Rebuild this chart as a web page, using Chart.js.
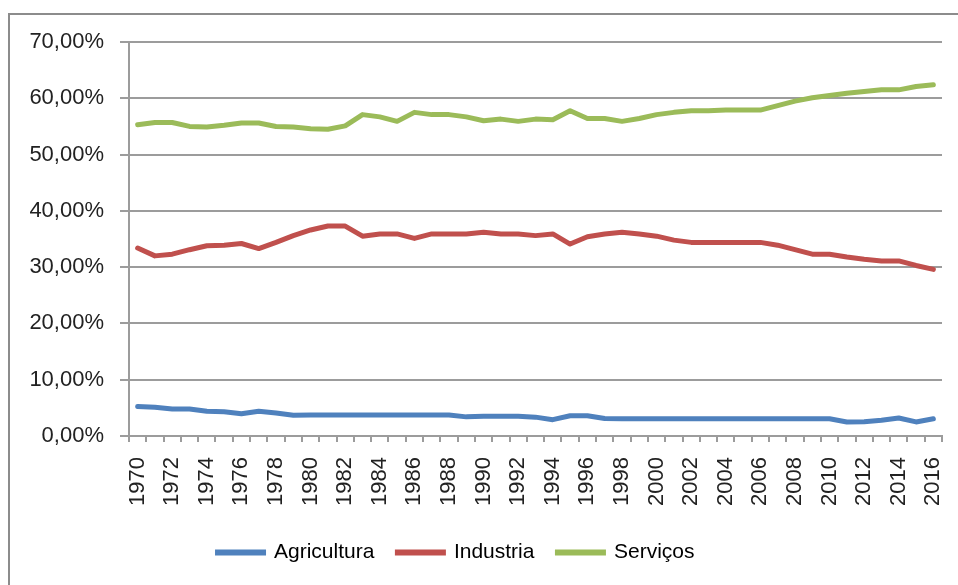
<!DOCTYPE html>
<html>
<head>
<meta charset="utf-8">
<script src="https://cdn.jsdelivr.net/npm/chart.js@4.4.1/dist/chart.umd.min.js"></script>
<style>
    html, body { margin: 0; padding: 0; background: #fff; overflow: hidden; }
    #wrap { position: relative; width: 958px; height: 585px; }
    #frame { position: absolute; left: 8px; top: 13px; width: 980px; height: 600px; border: 2px solid #8c8c8c; box-sizing: border-box; }
    canvas { position: absolute; left: 0; top: 0; }
</style>
</head>
<body>
<div id="wrap">
    <div id="frame"></div>
    <canvas id="chartSectors" width="958" height="585"></canvas>
</div>
<script>
// years 1970..2016
const years = ['1970','1971','1972','1973','1974','1975','1976','1977','1978','1979',
    '1980','1981','1982','1983','1984','1985','1986','1987','1988','1989',
    '1990','1991','1992','1993','1994','1995','1996','1997','1998','1999',
    '2000','2001','2002','2003','2004','2005','2006','2007','2008','2009',
    '2010','2011','2012','2013','2014','2015','2016'];

// shares in %
const agricultura = [5.25, 5.1, 4.8, 4.8, 4.4, 4.3, 3.95, 4.4, 4.1, 3.7,
    3.75, 3.75, 3.75, 3.75, 3.75, 3.75, 3.75, 3.75, 3.75, 3.4,
    3.5, 3.5, 3.5, 3.35, 2.9, 3.6, 3.6, 3.1, 3.05, 3.05,
    3.05, 3.05, 3.05, 3.05, 3.05, 3.05, 3.05, 3.05, 3.05, 3.05,
    3.05, 2.5, 2.55, 2.8, 3.2, 2.5, 3.05];

const industria = [33.4, 32.0, 32.3, 33.1, 33.8, 33.9, 34.2, 33.3, 34.4, 35.6,
    36.6, 37.3, 37.3, 35.5, 35.9, 35.9, 35.1, 35.9, 35.9, 35.9,
    36.2, 35.9, 35.9, 35.6, 35.9, 34.1, 35.4, 35.9, 36.2, 35.9,
    35.5, 34.8, 34.4, 34.4, 34.4, 34.4, 34.4, 33.9, 33.1, 32.3,
    32.3, 31.8, 31.4, 31.1, 31.1, 30.3, 29.6];

const servicos = [55.3, 55.7, 55.7, 55.0, 54.9, 55.2, 55.6, 55.6, 55.0, 54.9,
    54.6, 54.5, 55.1, 57.1, 56.7, 55.9, 57.5, 57.1, 57.1, 56.7,
    56.0, 56.3, 55.9, 56.3, 56.2, 57.8, 56.4, 56.4, 55.9, 56.4,
    57.1, 57.5, 57.8, 57.8, 57.9, 57.9, 57.9, 58.7, 59.5, 60.1,
    60.5, 60.9, 61.2, 61.5, 61.5, 62.1, 62.4];

const seriesNames = ['Agricultura', 'Industria', 'Serviços'];
const seriesColors = ['#4f81bd', '#c0504d', '#9bbb59'];

const FONT = 'Liberation Sans';
const gridGray = '#9c9c9c';

function lineSet(label, data, color) {
    return {
        label: label,
        data: data,
        borderColor: color,
        backgroundColor: color,
        borderWidth: 5,
        pointRadius: 0,
        tension: 0,
        borderCapStyle: 'round',
        borderJoinStyle: 'round'
    };
}

// legend sits a bit left of centre and higher in the original
const legendShift = {
    id: 'legendShift',
    afterLayout(chart) {
        if (chart.legend) {
            chart.legend.left -= 15;
            chart.legend.right -= 15;
            chart.legend.top -= 12;
            chart.legend.bottom -= 12;
        }
    }
};

const ctx = document.getElementById('chartSectors').getContext('2d');
new Chart(ctx, {
    type: 'line',
    data: {
        labels: years,
        datasets: [
            lineSet(seriesNames[0], agricultura, seriesColors[0]),
            lineSet(seriesNames[1], industria, seriesColors[1]),
            lineSet(seriesNames[2], servicos, seriesColors[2])
        ]
    },
    plugins: [legendShift],
    options: {
        responsive: false,
        animation: false,
        layout: { padding: { left: 0, right: 16, top: 42, bottom: 0 } },
        plugins: {
            tooltip: { enabled: false },
            legend: {
                position: 'bottom',
                labels: {
                    boxWidth: 46,
                    boxHeight: 1,
                    padding: 23,
                    color: '#222',
                    font: { family: FONT, size: 21 },
                    generateLabels: function(chart) {
                        return chart.data.datasets.map(function(ds, i) {
                            return { text: ds.label, fillStyle: ds.borderColor, strokeStyle: ds.borderColor,
                                     lineWidth: 5, lineCap: 'round', datasetIndex: i, hidden: false };
                        });
                    }
                }
            }
        },
        scales: {
            x: {
                offset: true,
                afterFit: function(scale) { scale.height = 95; scale.paddingLeft = 0; scale.paddingRight = 0; },
                grid: { display: true, offset: true, drawOnChartArea: false, drawTicks: true, tickLength: 6, color: gridGray, lineWidth: 2 },
                border: { display: true, color: gridGray, width: 2 },
                ticks: {
                    autoSkip: false,
                    maxRotation: 90,
                    minRotation: 90,
                    padding: 15,
                    color: '#222',
                    font: { family: FONT, size: 22 },
                    callback: function(val, idx) { return idx % 2 === 0 ? years[idx] : ''; }
                }
            },
            y: {
                min: 0,
                max: 70,
                afterFit: function(scale) { scale.width = 129; },
                grid: { color: gridGray, lineWidth: 2, drawTicks: true, tickLength: 9 },
                border: { display: true, color: gridGray, width: 2 },
                ticks: {
                    stepSize: 10,
                    padding: 16,
                    color: '#222',
                    font: { family: FONT, size: 22 },
                    callback: function(v) { return v.toFixed(2).replace('.', ',') + '%'; }
                }
            }
        }
    }
});
</script>
</body>
</html>
